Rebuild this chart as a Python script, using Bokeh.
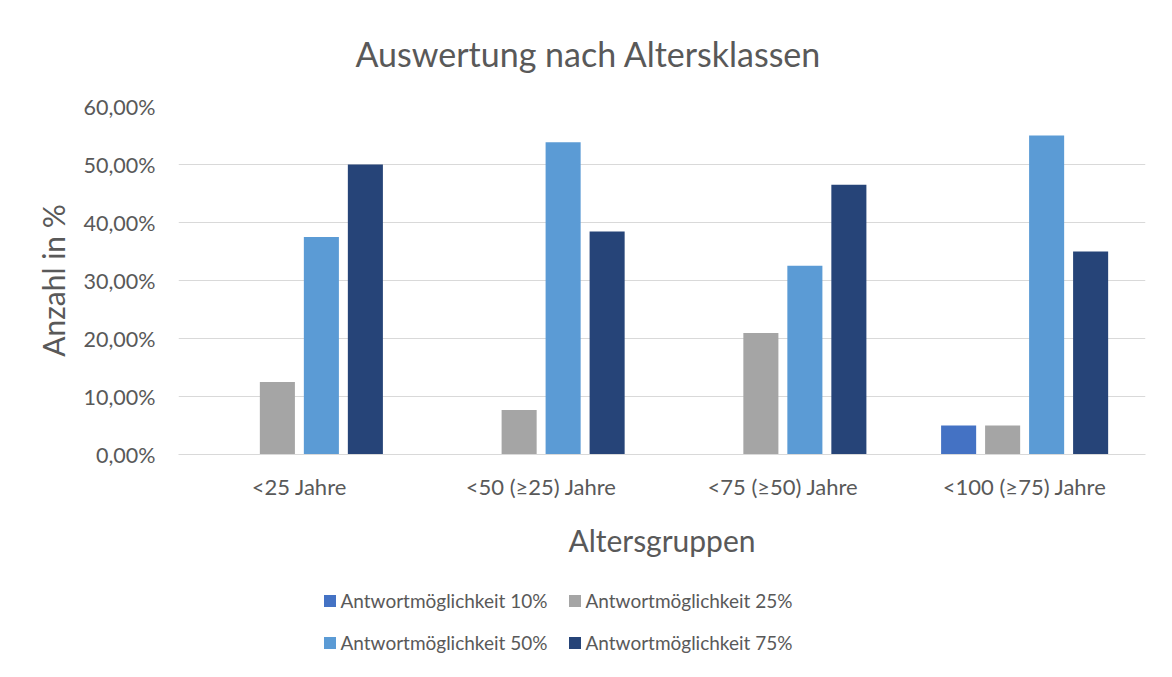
from bokeh.plotting import figure
from bokeh.layouts import column
from bokeh.models import ColumnDataSource, FactorRange, Range1d, FixedTicker, Legend, LegendItem
from bokeh.transform import dodge
from bokeh.embed import file_html
from bokeh.resources import INLINE

categories = ["<25 Jahre", "<50 (≥25) Jahre", "<75 (≥50) Jahre", "<100 (≥75) Jahre"]
series_names = ["Antwortmöglichkeit 10%", "Antwortmöglichkeit 25%",
                "Antwortmöglichkeit 50%", "Antwortmöglichkeit 75%"]
v10 = [0.0, 0.0, 0.0, 5.0]
v25 = [12.5, 7.69, 20.93, 5.0]
v50 = [37.5, 53.85, 32.56, 55.0]
v75 = [50.0, 38.46, 46.51, 35.0]
y_ticks = [0, 10, 20, 30, 40, 50, 60]
y_tick_labels = ["0,00%", "10,00%", "20,00%", "30,00%", "40,00%", "50,00%", "60,00%"]
colors = ["#4472C4", "#A5A5A5", "#5B9BD5", "#264478"]

FONT = "Lato"
TXT = "#595959"
GRID = "#D9D9D9"
W = 1164

src = ColumnDataSource(dict(cat=categories, v10=v10, v25=v25, v50=v50, v75=v75))

p = figure(x_range=FactorRange(*categories), y_range=Range1d(0, 60),
           width=W, height=570, output_backend="svg", toolbar_location=None,
           min_border_left=178, min_border_right=19, min_border_top=106, min_border_bottom=116)

offsets = [-0.273, -0.091, 0.091, 0.273]
for col, off, c in zip(["v10", "v25", "v50", "v75"], offsets, colors):
    p.vbar(x=dodge("cat", off, range=p.x_range), top=col, width=0.145,
           source=src, fill_color=c, line_color=None)

p.title.text = "Auswertung nach Altersklassen"
p.title.text_font = FONT
p.title.text_font_size = "34px"
p.title.text_font_style = "normal"
p.title.text_color = TXT
p.title.align = "left"
p.title.offset = 177
p.title.standoff = 62
p.title.vertical_align = "top"

p.outline_line_color = None
p.xgrid.grid_line_color = None
p.ygrid.grid_line_color = GRID
p.ygrid.grid_line_width = 1

p.yaxis.ticker = FixedTicker(ticks=y_ticks)
p.yaxis.major_label_overrides = {t: l for t, l in zip(y_ticks, y_tick_labels)}
p.yaxis.axis_line_color = None
p.yaxis.major_tick_line_color = None
p.yaxis.minor_tick_line_color = None
p.yaxis.major_tick_out = 0
p.yaxis.minor_tick_out = 0
p.yaxis.major_label_standoff = 23
p.yaxis.major_label_text_font = FONT
p.yaxis.major_label_text_font_size = "21.5px"
p.yaxis.major_label_text_color = TXT
p.yaxis.axis_label = "Anzahl in %"
p.yaxis.axis_label_text_font = FONT
p.yaxis.axis_label_text_font_size = "30px"
p.yaxis.axis_label_text_font_style = "normal"
p.yaxis.axis_label_text_color = TXT
p.yaxis.axis_label_standoff = 10

p.xaxis.axis_line_color = GRID
p.xaxis.major_tick_line_color = None
p.xaxis.minor_tick_line_color = None
p.xaxis.major_tick_out = 0
p.xaxis.minor_tick_out = 0
p.xaxis.major_label_standoff = 18
p.xaxis.major_label_text_font = FONT
p.xaxis.major_label_text_font_size = "22px"
p.xaxis.major_label_text_color = TXT
p.xaxis.axis_label = "Altersgruppen"
p.xaxis.axis_label_text_font = FONT
p.xaxis.axis_label_text_font_size = "30px"
p.xaxis.axis_label_text_font_style = "normal"
p.xaxis.axis_label_text_color = TXT
p.xaxis.axis_label_standoff = 19

# legend panel underneath the chart (zero-height proxy bars only carry the legend swatches)
leg = figure(width=W, height=100, output_backend="svg", toolbar_location=None,
             x_range=Range1d(0, 1), y_range=Range1d(0, 1),
             min_border=0, min_border_left=0, min_border_right=0,
             min_border_top=0, min_border_bottom=0)
leg.axis.visible = False
leg.grid.visible = False
leg.outline_line_color = None
proxy = ColumnDataSource(dict(x=[0.0], top=[0.0]))
items = []
for name, c in zip(series_names, colors):
    r = leg.vbar(x="x", top="top", width=0.0, source=proxy, fill_color=c, line_color=None)
    items.append(LegendItem(label=name, renderers=[r]))
legend = Legend(items=items, orientation="horizontal", ncols=2, location=(143.5, 16),
                label_text_font=FONT, label_text_font_size="19px", label_text_color=TXT,
                glyph_width=15, glyph_height=15, label_standoff=4, spacing=19,
                padding=5, margin=0, border_line_color=None, background_fill_alpha=0,
                label_height=22)
leg.add_layout(legend, "center")

layout = column(p, leg, spacing=0)
open("out.html", "w").write(file_html(layout, INLINE))
